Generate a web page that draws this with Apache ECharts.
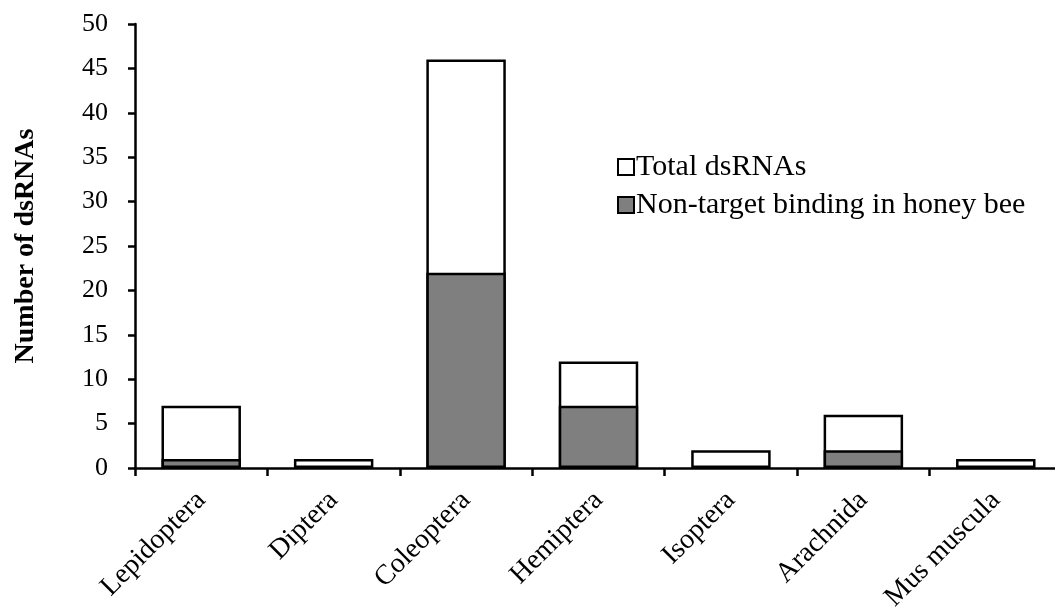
<!DOCTYPE html>
<html>
<head>
<meta charset="utf-8">
<script src="https://cdn.jsdelivr.net/npm/echarts@6/dist/echarts.min.js"></script>
<style>html,body{margin:0;padding:0;background:#fff}#c{width:1055px;height:609px}</style>
</head>
<body>
<div id="c"></div>
<script>
const categories = ['Lepidoptera','Diptera','Coleoptera','Hemiptera','Isoptera','Arachnida','Mus muscula'];
const totalDsRNAs = [7, 1, 46, 12, 2, 6, 1];
const nonTargetHoneyBee = [1, 0, 22, 7, 0, 2, 0];
const yTicks = [0,5,10,15,20,25,30,35,40,45,50];

const hideZero = arr => arr.map(v => (v === 0 ? '-' : v));
const font = '"Liberation Serif", "Times New Roman", serif';
const chart = echarts.init(document.getElementById('c'));
chart.setOption({
  animation: false,
  backgroundColor: '#fff',
  grid: { left: 135, top: 24, right: -7, bottom: 141, containLabel: false, outerBoundsMode: 'none' },
  legend: {
    orient: 'vertical',
    left: 612, top: 147,
    itemWidth: 16, itemHeight: 16, itemGap: 8,
    icon: 'rect',
    textStyle: { fontFamily: font, fontSize: 30, color: '#000', padding: [0,0,0,-3] },
    data: ['Total dsRNAs', 'Non-target binding in honey bee']
  },
  xAxis: {
    type: 'category',
    data: categories,
    axisLine: { lineStyle: { color: '#000', width: 2.5 } },
    axisTick: { show: true, length: 8, lineStyle: { color: '#000', width: 2.5 } },
    axisLabel: { rotate: 45, fontFamily: font, fontSize: 28, color: '#000', margin: 28, interval: 0 }
  },
  yAxis: {
    type: 'value',
    min: yTicks[0], max: yTicks[yTicks.length-1], interval: 5,
    name: 'Number of dsRNAs',
    nameLocation: 'middle',
    nameGap: 95,
    nameTextStyle: { fontFamily: font, fontSize: 28, fontWeight: 'bold', color: '#000' },
    axisLine: { show: true, lineStyle: { color: '#000', width: 2.5 } },
    axisTick: { show: true, length: 7, lineStyle: { color: '#000', width: 2.5 } },
    axisLabel: { fontFamily: font, fontSize: 26, color: '#000', margin: 27 },
    splitLine: { show: false }
  },
  series: [
    {
      name: 'Total dsRNAs', type: 'bar', data: hideZero(totalDsRNAs),
      barWidth: '60%', barGap: '-100%',
      itemStyle: { color: '#fff', borderColor: '#000', borderWidth: 2.5 }
    },
    {
      name: 'Non-target binding in honey bee', type: 'bar', data: hideZero(nonTargetHoneyBee),
      barWidth: '60%', barGap: '-100%',
      itemStyle: { color: '#7f7f7f', borderColor: '#000', borderWidth: 2.5 }
    }
  ]
});
</script>
</body>
</html>
